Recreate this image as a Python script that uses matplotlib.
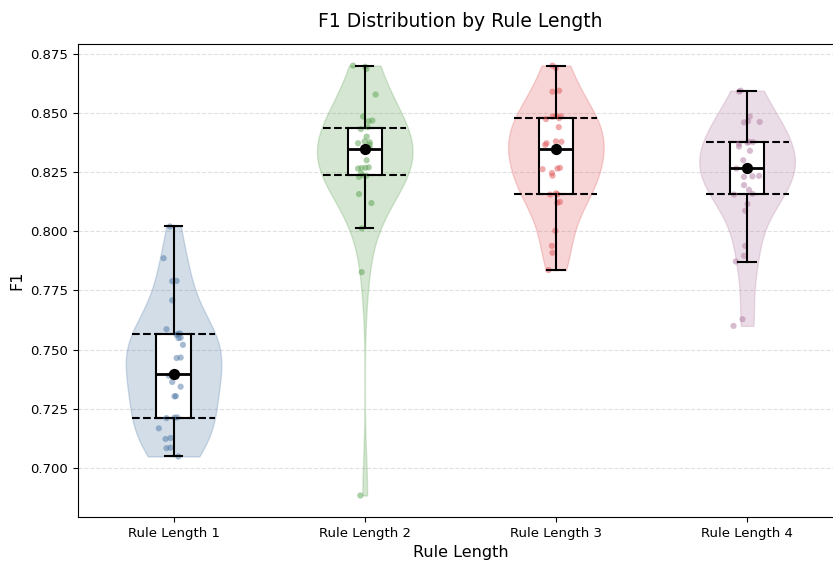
import numpy as np
import matplotlib
matplotlib.use("Agg")
import matplotlib.pyplot as plt

# Data (F1 per run, 30 runs per rule length)
labels = ['Rule Length 1', 'Rule Length 2', 'Rule Length 3', 'Rule Length 4']
colors = ['#4E79A7', '#59A14F', '#E15759', '#B07AA1']

f1_len1 = [0.7048, 0.7083, 0.7085, 0.7122, 0.7126, 0.7167, 0.7210, 0.7212, 0.7213, 0.7302,
           0.7303, 0.7343, 0.7363, 0.7390, 0.7397, 0.7400, 0.7464, 0.7466, 0.7520, 0.7548,
           0.7550, 0.7562, 0.7565, 0.7568, 0.7586, 0.7708, 0.7789, 0.7790, 0.7886, 0.8020]
f1_len2 = [0.6883, 0.7827, 0.8012, 0.8119, 0.8157, 0.8230, 0.8235, 0.8237, 0.8245, 0.8265,
           0.8267, 0.8268, 0.8270, 0.8300, 0.8340, 0.8352, 0.8366, 0.8372, 0.8376, 0.8380,
           0.8400, 0.8432, 0.8440, 0.8465, 0.8468, 0.8485, 0.8578, 0.8686, 0.8695, 0.8700]
f1_len3 = [0.7836, 0.7909, 0.7938, 0.8002, 0.8120, 0.8124, 0.8155, 0.8156, 0.8160, 0.8235,
           0.8246, 0.8262, 0.8265, 0.8268, 0.8345, 0.8348, 0.8365, 0.8372, 0.8378, 0.8380,
           0.8440, 0.8474, 0.8478, 0.8484, 0.8486, 0.8488, 0.8590, 0.8594, 0.8690, 0.8700]
f1_len4 = [0.7600, 0.7628, 0.7872, 0.7896, 0.7938, 0.8087, 0.8115, 0.8155, 0.8158, 0.8175,
           0.8195, 0.8230, 0.8232, 0.8234, 0.8265, 0.8268, 0.8270, 0.8300, 0.8340, 0.8358,
           0.8370, 0.8374, 0.8377, 0.8378, 0.8460, 0.8462, 0.8485, 0.8465, 0.8590, 0.8594]

# horizontal jitter of the strip points, as seen in the picture
jit_len1 = [0.025, -0.037, -0.016, -0.042, -0.016, -0.077, -0.037, 0.005, 0.019, 0.005,
            0.012, 0.037, -0.007, -0.025, -0.007, 0.000, 0.016, 0.037, 0.049, 0.026,
            0.037, 0.016, 0.022, 0.033, -0.037, -0.007, -0.007, 0.016, -0.052, -0.019]
jit_len2 = [-0.023, -0.016, -0.016, 0.035, -0.030, -0.030, 0.009, -0.010, -0.020, -0.035,
            -0.017, 0.004, 0.021, 0.010, 0.000, 0.026, 0.026, -0.035, 0.026, 0.000,
            0.010, -0.020, 0.015, 0.021, 0.040, -0.009, 0.057, 0.009, 0.003, -0.061]
jit_len3 = [-0.039, -0.018, -0.021, -0.003, 0.008, 0.021, -0.030, 0.008, 0.000, -0.018,
            -0.021, -0.070, 0.008, 0.021, 0.010, 0.000, -0.056, -0.049, 0.029, 0.000,
            0.015, -0.052, 0.017, -0.018, 0.026, 0.000, -0.018, 0.017, 0.000, -0.018]
jit_len4 = [-0.071, -0.024, -0.059, -0.016, -0.010, -0.010, 0.002, -0.068, 0.028, 0.010,
            -0.016, -0.016, 0.028, 0.063, -0.056, 0.000, 0.002, -0.020, 0.015, -0.042,
            -0.042, 0.002, 0.031, 0.010, -0.016, 0.066, 0.014, 0.005, -0.042, -0.033]

data = [np.array(f1_len1), np.array(f1_len2), np.array(f1_len3), np.array(f1_len4)]
jitter = [jit_len1, jit_len2, jit_len3, jit_len4]
positions = np.arange(1, len(labels) + 1)

fig = plt.figure(figsize=(8.33, 5.61), dpi=100)
# the original canvas is cut a little on the right, so the axes run past the edge
ax = fig.add_axes([0.0936, 0.0784, 0.918, 0.843])

# Violins
parts = ax.violinplot(data, positions=positions, widths=0.5, showextrema=False)
for body, c in zip(parts['bodies'], colors):
    body.set_facecolor(c)
    body.set_edgecolor(c)
    body.set_alpha(0.25)
    body.set_zorder(1)

# Box plots (white boxes sit under the points, lines on top)
bp = ax.boxplot(data, positions=positions, widths=0.18, patch_artist=True,
                showfliers=False, zorder=3,
                boxprops=dict(facecolor='white', edgecolor='black', linewidth=1.5),
                medianprops=dict(color='black', linewidth=2),
                whiskerprops=dict(color='black', linewidth=1.5),
                capprops=dict(color='black', linewidth=1.5))
for box in bp['boxes']:
    box.set_zorder(1.5)

# Jittered points
for pos, vals, jit, c in zip(positions, data, jitter, colors):
    ax.scatter(pos + np.array(jit), vals, s=20, color=c, alpha=0.5,
               edgecolors='none', zorder=2)

# Quartile dashes and median dots
for pos, vals in zip(positions, data):
    q1, med, q3 = np.percentile(vals, [25, 50, 75])
    ax.hlines([q1, q3], pos - 0.217, pos + 0.217, colors='black',
              linestyles='--', linewidth=1.5, zorder=3)
    ax.scatter([pos], [med], s=50, color='black', zorder=4)

ax.set_xticks(positions)
ax.set_xticklabels(labels, fontsize=9.5)
ax.tick_params(axis='y', labelsize=9.5)
ax.set_xlim(0.5, 4.5)
ax.set_yticks(np.arange(0.700, 0.876, 0.025))
ax.set_ylim(0.6792, 0.8791)
ax.yaxis.grid(True, linestyle='--', color='#cccccc', alpha=0.6, linewidth=0.8)
ax.set_axisbelow(True)
ax.spines['right'].set_visible(False)

ax.set_xlabel('Rule Length', fontsize=11.5)
ax.set_ylabel('F1', fontsize=11.5)
ax.set_title('F1 Distribution by Rule Length', fontsize=13.5, pad=12)

fig.savefig('out.png', dpi=100)
